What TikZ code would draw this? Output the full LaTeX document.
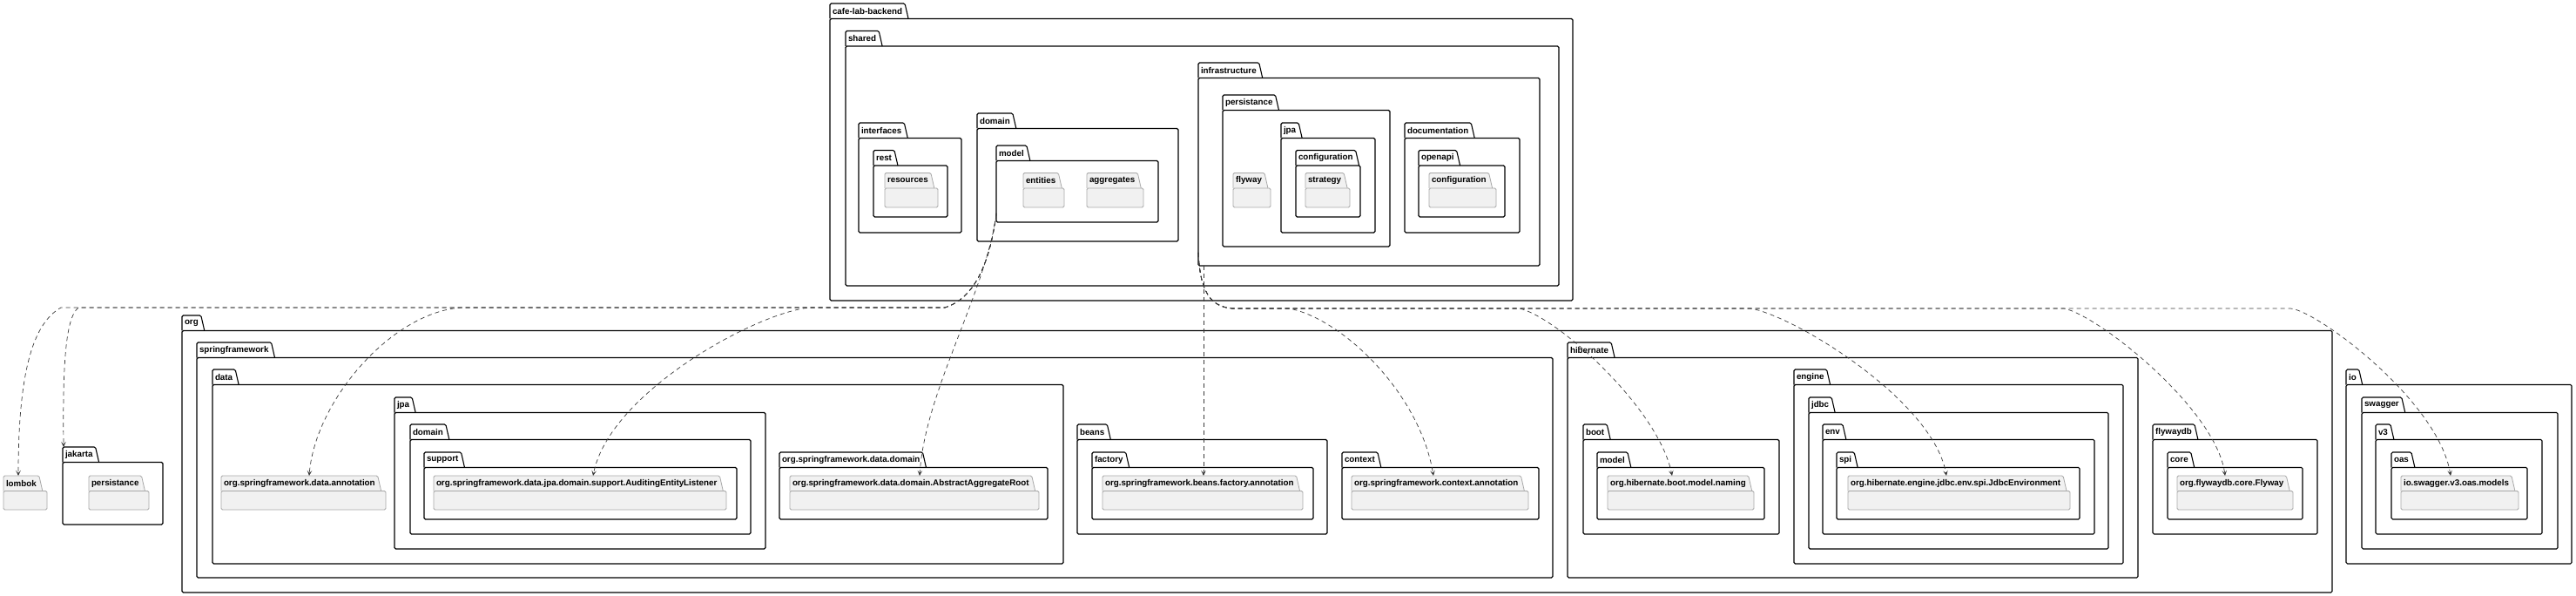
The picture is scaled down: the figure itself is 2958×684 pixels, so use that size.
\documentclass[tikz,border=0pt]{standalone}
\usepackage{fontspec}
\setmainfont{Liberation Sans}
\usetikzlibrary{arrows.meta,calc}
\definecolor{leaffill}{HTML}{F1F1F1}
\definecolor{leafline}{HTML}{A8A8A8}
\definecolor{depcol}{HTML}{3A3A3A}
\newcommand\pkgfnt{\fontsize{9.8pt}{11pt}\selectfont\bfseries}
\tikzset{
  cbody/.style={draw=black, line width=1.1pt, fill=white, rounded corners=1.5pt, inner sep=0pt, outer sep=0pt},
  ctab/.style={fill=white, inner xsep=3pt, inner ysep=0pt, minimum height=17.5pt, outer sep=0pt, font=\pkgfnt},
  ctri/.style={fill=white},
  cline/.style={draw=black, line width=1.1pt, rounded corners=1.5pt},
  lbody/.style={draw=leafline, line width=0.8pt, fill=leaffill, rounded corners=1.5pt, inner sep=0pt, outer sep=0pt},
  ltab/.style={fill=leaffill, inner xsep=3pt, inner ysep=0pt, minimum height=17.5pt, outer sep=0pt, font=\pkgfnt},
  ltri/.style={fill=leaffill},
  lline/.style={draw=leafline, line width=0.8pt, rounded corners=1.5pt},
  dep/.style={draw=depcol, line width=0.7pt, dash pattern=on 5pt off 4pt,
    -{Stealth[length=6pt,width=5.5pt,inset=2.8pt]}}
}
% #1 kind (c/l), #2 id, #3 x1, #4 tab top, #5 x2, #6 bottom, #7 label
\newcommand\pkgbox[7]{%
  \pgfmathsetmacro\pkgw{#5-#3}%
  \pgfmathsetmacro\pkgh{#6-#4-17.5}%
  \node[#1tab, anchor=north west] (#2-t) at (#3,#4) {#7};
  \fill[#1tri] (#2-t.north east) -- ([xshift=4pt]#2-t.south east) -- (#2-t.south east) -- cycle;
  \node[#1body, anchor=north west, minimum width=\pkgw pt, minimum height=\pkgh pt] (#2) at (#3,#4+17.5) {};
  \draw[#1line] (#2-t.south west) -- (#2-t.north west) -- (#2-t.north east) -- ([xshift=4pt]#2-t.south east);
}
\begin{document}
\begin{tikzpicture}[x=1pt,y=-1pt]
\fill[white] (0,0) rectangle (2958,684);
\useasboundingbox (0,0) rectangle (2958,684);

% ---------- cafe-lab-backend ----------
\pkgbox{c}{cafe}{953}{4}{1806}{345}{cafe-lab-backend}
\pkgbox{c}{shared}{971}{35.5}{1790}{328}{shared}
\pkgbox{c}{ifaces}{986}{141}{1104}{267}{interfaces}
\pkgbox{c}{rest}{1003}{172.5}{1088}{249}{rest}
\pkgbox{l}{resources}{1016}{198.5}{1077}{238}{resources}
\pkgbox{c}{sdomain}{1122}{130}{1353}{277}{domain}
\pkgbox{c}{smodel}{1144}{167}{1330}{255}{model}
\pkgbox{l}{entities}{1175}{198.5}{1222}{238}{entities}
\pkgbox{l}{aggregates}{1248}{198.5}{1313}{238}{aggregates}
\pkgbox{c}{sinfra}{1376}{72}{1768}{305}{infrastructure}
\pkgbox{c}{spersist}{1404}{109}{1596}{283}{persistance}
\pkgbox{l}{sflyway}{1416}{198.5}{1459}{238}{flyway}
\pkgbox{c}{sjpa}{1471}{141}{1579}{267}{jpa}
\pkgbox{c}{sjpaconf}{1488}{172.5}{1562}{249}{configuration}
\pkgbox{l}{strategy}{1499}{198.5}{1550}{238}{strategy}
\pkgbox{c}{sdoc}{1613}{141}{1745}{267}{documentation}
\pkgbox{c}{sopenapi}{1629}{172.5}{1728}{249}{openapi}
\pkgbox{l}{sapiconf}{1641}{198.5}{1718}{238}{configuration}

% ---------- external ----------
\pkgbox{l}{lombok}{4}{546}{54}{585}{lombok}
\pkgbox{c}{jakarta}{72}{513}{187}{602}{jakarta}
\pkgbox{l}{jpersist}{102}{546}{171}{585}{persistance}

\pkgbox{c}{org}{209}{362}{2678}{680}{org}
\pkgbox{c}{spring}{226}{393}{1783}{663}{springframework}
\pkgbox{c}{data}{244}{424}{1221}{647}{data}
\pkgbox{l}{dann}{254}{546}{443}{585}{org.springframework.data.annotation}
\pkgbox{c}{djpa}{453}{456}{879}{630}{jpa}
\pkgbox{c}{djdom}{471}{487}{862}{613}{domain}
\pkgbox{c}{support}{487}{519}{846}{596}{support}
\pkgbox{l}{auditing}{498}{546}{834}{585}{org.springframework.data.jpa.domain.support.AuditingEntityListener}
\pkgbox{c}{ddomain}{895}{519}{1203}{596}{org.springframework.data.domain}
\pkgbox{l}{aggroot}{907}{546}{1193}{585}{org.springframework.data.domain.AbstractAggregateRoot}
\pkgbox{c}{beans}{1237}{487}{1524}{613}{beans}
\pkgbox{c}{factory}{1254}{519}{1508}{596}{factory}
\pkgbox{l}{bfann}{1266}{546}{1496}{585}{org.springframework.beans.factory.annotation}
\pkgbox{c}{context}{1541}{519}{1767}{596}{context}
\pkgbox{l}{cann}{1552}{546}{1755}{585}{org.springframework.context.annotation}

\pkgbox{c}{hibernate}{1800}{393}{2455}{663}{hibernate}
\pkgbox{c}{boot}{1818}{487}{2043}{613}{boot}
\pkgbox{c}{hmodel}{1834}{519}{2026}{596}{model}
\pkgbox{l}{naming}{1846}{546}{2014}{585}{org.hibernate.boot.model.naming}
\pkgbox{c}{engine}{2060}{424}{2438}{647}{engine}
\pkgbox{c}{jdbc}{2077}{456}{2421}{630}{jdbc}
\pkgbox{c}{env}{2093}{487}{2405}{613}{env}
\pkgbox{c}{spi}{2109}{519}{2388}{596}{spi}
\pkgbox{l}{jdbcenv}{2122}{546}{2377}{585}{org.hibernate.engine.jdbc.env.spi.JdbcEnvironment}
\pkgbox{c}{flywaydb}{2472}{487}{2661}{613}{flywaydb}
\pkgbox{c}{core}{2489}{519}{2644}{596}{core}
\pkgbox{l}{flyway}{2500}{546}{2633}{585}{org.flywaydb.core.Flyway}

\pkgbox{c}{io}{2694}{424}{2953}{647}{io}
\pkgbox{c}{swagger}{2712}{456}{2937}{630}{swagger}
\pkgbox{c}{v3}{2728}{487}{2919}{613}{v3}
\pkgbox{c}{oas}{2746}{519}{2902}{596}{oas}
\pkgbox{l}{models}{2757}{546}{2892}{585}{io.swagger.v3.oas.models}

% ---------- dependencies from domain.model ----------
\draw[dep] ([yshift=10pt]smodel.south west) .. controls (1137,300) and (1120,342) .. (1085,353)
  -- (70,353) .. controls (40,370) and (21,420) .. ($(lombok-t.north west)+(17,0)$);
\draw[dep] ([yshift=10pt]smodel.south west) .. controls (1137,300) and (1120,342) .. (1085,353)
  -- (90,353) .. controls (75,365) and (72,420) .. ($(jakarta-t.north west)+(1,0)$);
\draw[dep] ([yshift=10pt]smodel.south west) .. controls (1137,300) and (1120,342) .. (1085,353)
  -- (530,353) .. controls (450,358) and (362,460) .. ($(dann-t.north west)+(101,0)$);
\draw[dep] ([yshift=10pt]smodel.south west) .. controls (1137,300) and (1120,342) .. (1085,353)
  -- (930,353) .. controls (870,358) and (700,450) .. ($(auditing-t.north west)+(183,0)$);
\draw[dep] ([yshift=8pt]smodel.south west) .. controls (1130,340) and (1062,450) .. ($(aggroot-t.north west)+(149,0)$);

% ---------- dependencies from infrastructure ----------
\draw[dep] ([xshift=6pt]sinfra.south west) -- ($(bfann-t.north west)+(116,0)$);
\draw[dep] ([yshift=15pt]sinfra.south west) .. controls (1378,335) and (1390,352) .. (1415,354)
  -- (1480,354) .. controls (1540,365) and (1630,450) .. ($(cann-t.north west)+(94,0)$);
\draw[dep] ([yshift=15pt]sinfra.south west) .. controls (1378,335) and (1390,352) .. (1415,354)
  -- (1745,354) .. controls (1790,365) and (1905,470) .. ($(naming-t.north west)+(74,0)$);
\draw[dep] ([yshift=15pt]sinfra.south west) .. controls (1378,335) and (1390,352) .. (1415,354)
  -- (2010,354) .. controls (2060,362) and (2220,460) .. ($(jdbcenv-t.north west)+(113,0)$);
\draw[dep] ([yshift=15pt]sinfra.south west) .. controls (1378,335) and (1390,352) .. (1415,354)
  -- (2370,354) .. controls (2410,362) and (2545,470) .. ($(flyway-t.north west)+(55,0)$);
\draw[dep] ([yshift=15pt]sinfra.south west) .. controls (1378,335) and (1390,352) .. (1415,354)
  -- (2630,354) .. controls (2660,356) and (2800,460) .. ($(models-t.north west)+(57,0)$);
\end{tikzpicture}
\end{document}
